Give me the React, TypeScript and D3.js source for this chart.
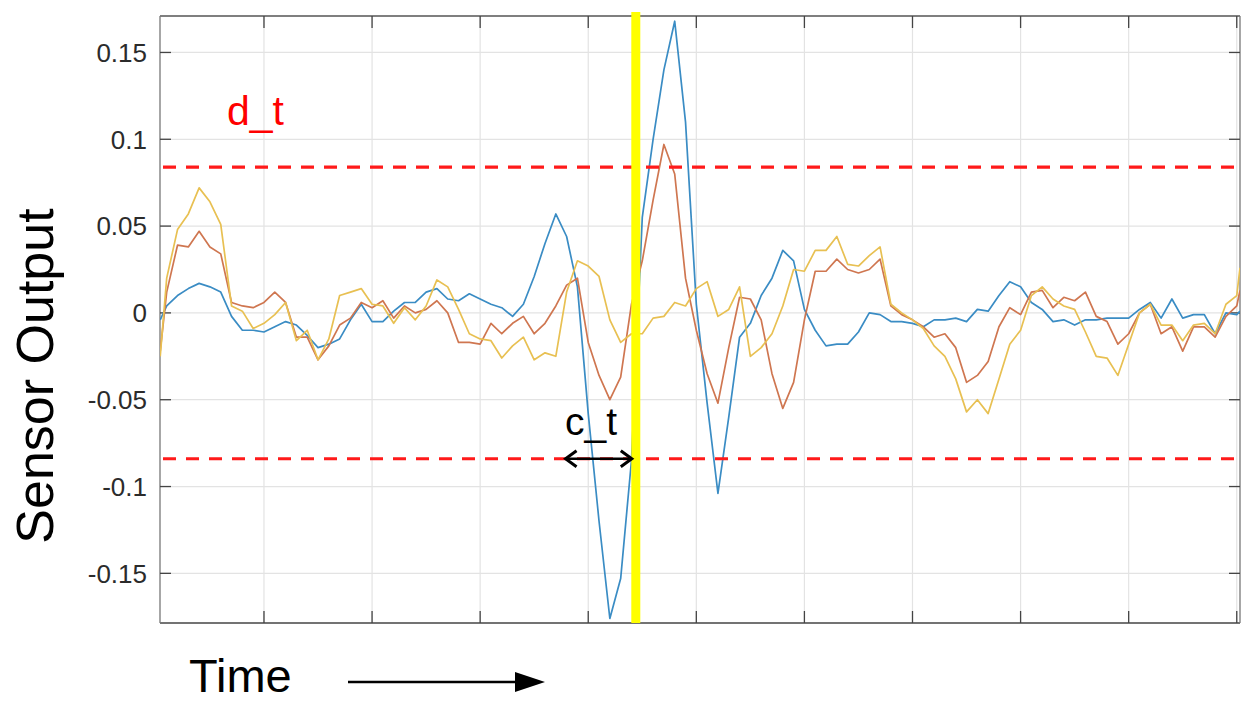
import React from "react";
import * as d3 from "d3";

// sample times (axis units; x ticks at 1..10)
const times: number[] = [0.04, ...d3.range(1, 101).map((i) => i / 10), 10.03];

const blueValues = [
  -0.004,
  0.004, 0.010, 0.014, 0.017, 0.015, 0.012, -0.002, -0.010, -0.010, -0.011,
  -0.008, -0.005, -0.007, -0.013, -0.020, -0.018, -0.015, -0.004, 0.005, -0.005,
  -0.005, 0.001, 0.006, 0.006, 0.012, 0.014, 0.008, 0.007, 0.011, 0.008,
  0.005, 0.003, -0.002, 0.005, 0.021, 0.040, 0.057, 0.044, 0.015, -0.058,
  -0.120, -0.176, -0.153, -0.085, 0.055, 0.100, 0.140, 0.168, 0.110, 0.005,
  -0.052, -0.104, -0.060, -0.014, -0.006, 0.010, 0.020, 0.036, 0.030, 0.002,
  -0.010, -0.019, -0.018, -0.018, -0.011, 0.000, -0.001, -0.005, -0.005, -0.006,
  -0.008, -0.004, -0.004, -0.003, -0.005, 0.002, 0.001, 0.010, 0.018, 0.015,
  0.006, 0.002, -0.005, -0.004, -0.007, -0.004, -0.004, -0.003, -0.003, -0.003,
  0.002, 0.006, -0.003, 0.008, -0.003, -0.001, -0.001, -0.012, 0.000, -0.001,
  0.001,
];

const redValues = [
  -0.022,
  0.012, 0.039, 0.038, 0.047, 0.038, 0.034, 0.006, 0.004, 0.003, 0.006,
  0.012, 0.006, -0.014, -0.014, -0.027, -0.019, -0.007, -0.003, 0.006, 0.003,
  0.007, -0.003, 0.004, 0.000, 0.002, 0.007, 0.000, -0.017, -0.017, -0.018,
  -0.006, -0.012, -0.006, -0.002, -0.012, -0.006, 0.004, 0.016, 0.020, -0.017,
  -0.036, -0.050, -0.037, 0.005, 0.030, 0.065, 0.097, 0.080, 0.020, -0.010,
  -0.035, -0.052, -0.020, 0.009, 0.008, -0.004, -0.035, -0.055, -0.040, -0.004,
  0.024, 0.024, 0.031, 0.025, 0.023, 0.025, 0.031, 0.004, -0.001, -0.004,
  -0.008, -0.014, -0.012, -0.020, -0.040, -0.036, -0.028, -0.008, 0.003, -0.001,
  0.012, 0.013, 0.003, 0.009, 0.007, 0.012, -0.002, -0.005, -0.018, -0.012,
  0.000, 0.005, -0.012, -0.008, -0.022, -0.008, -0.008, -0.014, -0.002, 0.004,
  0.013,
];

const yellowValues = [
  -0.025,
  0.020, 0.048, 0.057, 0.072, 0.064, 0.051, 0.004, 0.001, -0.009, -0.006,
  -0.001, 0.006, -0.016, -0.010, -0.027, -0.015, 0.010, 0.012, 0.014, 0.005,
  0.004, -0.006, 0.003, -0.004, 0.004, 0.019, 0.015, 0.002, -0.012, -0.015,
  -0.016, -0.026, -0.019, -0.014, -0.027, -0.023, -0.025, 0.012, 0.030, 0.027,
  0.021, -0.004, -0.017, -0.012, -0.012, -0.003, -0.002, 0.006, 0.004, 0.014,
  0.018, -0.002, 0.002, 0.015, -0.025, -0.020, -0.012, 0.004, 0.025, 0.024,
  0.036, 0.036, 0.044, 0.028, 0.027, 0.033, 0.038, 0.005, 0.000, -0.004,
  -0.009, -0.019, -0.025, -0.038, -0.057, -0.050, -0.058, -0.038, -0.018, -0.010,
  0.010, 0.015, 0.008, 0.004, 0.002, -0.011, -0.025, -0.026, -0.036, -0.018,
  0.000, 0.005, -0.007, -0.007, -0.016, -0.007, -0.006, -0.012, 0.005, 0.010,
  0.026,
];

const xTicks = [1, 2, 3, 4, 5, 6, 7, 8, 9, 10];
const yTicks = [-0.15, -0.1, -0.05, 0, 0.05, 0.1, 0.15];
const yTickLabels = ["-0.15", "-0.1", "-0.05", "0", "0.05", "0.1", "0.15"];
const thresholds = [0.084, -0.084];
const eventTime = 4.44;
const crossStart = 3.79;

const series = [
  { name: "s1", values: blueValues, color: "#3a8cc4" },
  { name: "s2", values: redValues, color: "#cf7650" },
  { name: "s3", values: yellowValues, color: "#e8c052" },
];

export default function App() {
  const L = 160, R = 1240, T = 16, B = 623;
  const x = d3.scaleLinear().domain([0.038, 10.03]).range([L, R]);
  const y = d3.scaleLinear().domain([-0.1786, 0.171]).range([B, T]);
  const line = d3
    .line<number>()
    .x((_, i) => x(times[i]))
    .y((d) => y(d));

  const arrowY = y(thresholds[1]);
  const ax0 = x(crossStart);
  const ax1 = x(eventTime) - 4;

  return (
    <svg
      width={1251}
      height={704}
      style={{ position: "absolute", left: 0, top: 0, background: "#fff" }}
      fontFamily="'Liberation Sans', Arial, sans-serif"
    >
      <defs>
        <clipPath id="plot">
          <rect x={L} y={T} width={R - L} height={B - T} />
        </clipPath>
      </defs>
      <rect x={L} y={T} width={R - L} height={B - T} fill="#fff" />
      {/* grid */}
      {xTicks.map((t) => (
        <line key={"gx" + t} x1={x(t)} x2={x(t)} y1={T} y2={B} stroke="#e3e3e3" strokeWidth={1.2} />
      ))}
      {yTicks.map((t) => (
        <line key={"gy" + t} x1={L} x2={R} y1={y(t)} y2={y(t)} stroke="#e3e3e3" strokeWidth={1.2} />
      ))}
      {/* frame */}
      <line x1={L} x2={R} y1={T} y2={T} stroke="#555" strokeWidth={1.3} />
      <line x1={L} x2={R} y1={B} y2={B} stroke="#444" strokeWidth={1.5} />
      <line x1={L} x2={L} y1={T} y2={B} stroke="#777" strokeWidth={1.3} />
      <line x1={R} x2={R} y1={T} y2={B} stroke="#777" strokeWidth={1.3} />
      {xTicks.map((t) => (
        <g key={"tx" + t}>
          <line x1={x(t)} x2={x(t)} y1={T} y2={T + 12} stroke="#444" strokeWidth={1.3} />
          <line x1={x(t)} x2={x(t)} y1={B} y2={B - 12} stroke="#444" strokeWidth={1.3} />
        </g>
      ))}
      {yTicks.map((t) => (
        <g key={"ty" + t}>
          <line x1={L} x2={L + 11} y1={y(t)} y2={y(t)} stroke="#444" strokeWidth={1.3} />
          <line x1={R} x2={R - 11} y1={y(t)} y2={y(t)} stroke="#444" strokeWidth={1.3} />
        </g>
      ))}
      {yTicks.map((t, i) => (
        <text key={"yl" + t} x={147} y={y(t)} dy="0.36em" textAnchor="end" fontSize={26} fill="#2b2b2b">
          {yTickLabels[i]}
        </text>
      ))}
      {/* series */}
      <g clipPath="url(#plot)">
        {series.map((s) => (
          <path key={s.name} d={line(s.values) || ""} fill="none" stroke={s.color} strokeWidth={1.7} strokeLinejoin="round" />
        ))}
      </g>
      {/* thresholds */}
      {thresholds.map((v) => (
        <line key={"th" + v} x1={L + 3} x2={R - 3} y1={y(v)} y2={y(v)} stroke="#ff1a1a" strokeWidth={3.2} strokeDasharray="13 10" />
      ))}
      {/* event marker */}
      <rect x={x(eventTime) - 4.5} y={12} width={9} height={B - 12} fill="#ffff00" />
      {/* annotations */}
      <text x={227} y={125} fontSize={41} fill="#ff0000">d_t</text>
      <text x={565} y={435} fontSize={39} fill="#000">c_t</text>
      <line x1={ax0 + 2} x2={ax1 - 2} y1={arrowY} y2={arrowY} stroke="#000" strokeWidth={2.5} />
      <polyline points={`${ax0 + 11},${arrowY - 8} ${ax0},${arrowY} ${ax0 + 11},${arrowY + 8}`} fill="none" stroke="#000" strokeWidth={3} />
      <polyline points={`${ax1 - 11},${arrowY - 8} ${ax1},${arrowY} ${ax1 - 11},${arrowY + 8}`} fill="none" stroke="#000" strokeWidth={3} />
      {/* axis titles */}
      <text transform="translate(53,376) rotate(-90)" textAnchor="middle" fontSize={52} fill="#000">
        Sensor Output
      </text>
      <text x={189} y={692} fontSize={47} fill="#000">Time</text>
      <line x1={348} x2={520} y1={682} y2={682} stroke="#000" strokeWidth={2.5} />
      <polygon points="515,672 545,682 515,692" fill="#000" />
    </svg>
  );
}
